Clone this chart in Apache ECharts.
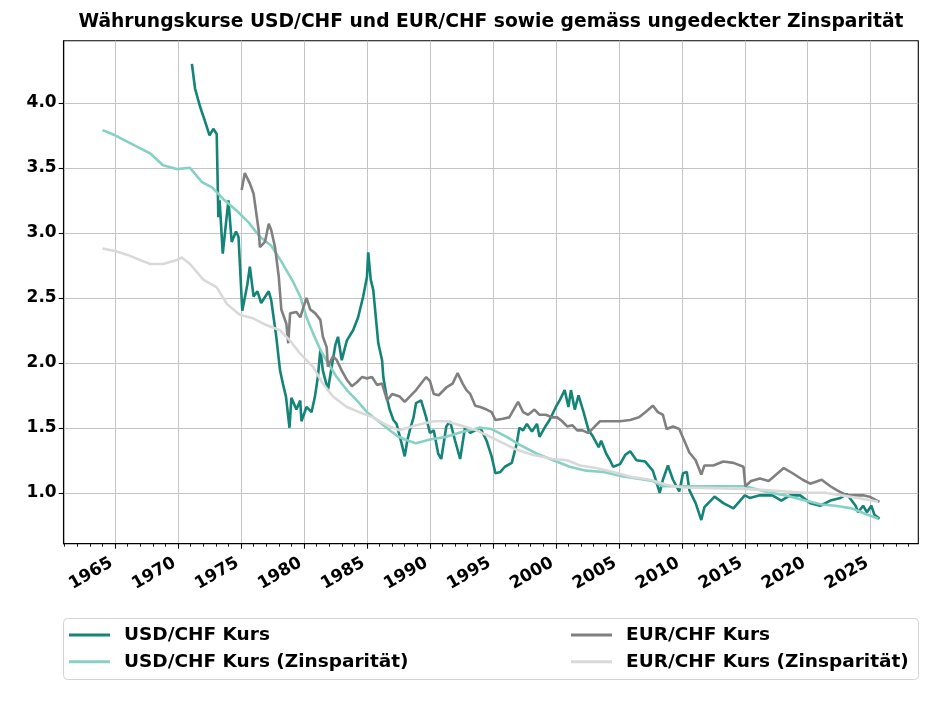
<!DOCTYPE html>
<html>
<head>
<meta charset="utf-8">
<script src="https://cdn.jsdelivr.net/npm/echarts@6/dist/echarts.min.js"></script>
<style>
  html, body { margin: 0; padding: 0; background: #fff; }
  #chart { width: 935px; height: 701px; }
</style>
</head>
<body>
<div id="chart"></div>
<script>
// ---- Data ----
const titleText = 'Währungskurse USD/CHF und EUR/CHF sowie gemäss ungedeckter Zinsparität';
const seriesNames = ['USD/CHF Kurs', 'USD/CHF Kurs (Zinsparität)', 'EUR/CHF Kurs', 'EUR/CHF Kurs (Zinsparität)'];
const xTickYears = [1965, 1970, 1975, 1980, 1985, 1990, 1995, 2000, 2005, 2010, 2015, 2020, 2025];
const yTickValues = [1.0, 1.5, 2.0, 2.5, 3.0, 3.5, 4.0];

const usdYears = [1971.1,1971.35,1971.75,1972.1,1972.5,1972.8,1973.07,1973.2,1973.3,1973.55,1974.0,1974.26,1974.6,1974.8,1975.1,1975.5,1975.7,1976.0,1976.3,1976.6,1977.2,1977.4,1977.8,1978.1,1978.37,1978.57,1978.85,1979.0,1979.4,1979.7,1979.8,1980.2,1980.6,1980.87,1981.1,1981.3,1981.5,1981.9,1982.2,1982.5,1982.7,1983.0,1983.4,1983.9,1984.3,1984.7,1985.0,1985.1,1985.3,1985.5,1985.9,1986.2,1986.3,1986.56,1986.8,1987.1,1987.35,1987.75,1988.0,1988.2,1988.4,1988.7,1988.9,1989.3,1989.7,1990.0,1990.3,1990.66,1990.9,1991.3,1991.6,1992.0,1992.4,1992.8,1993.2,1993.6,1994.0,1994.5,1994.9,1995.2,1995.6,1995.95,1996.5,1996.9,1997.1,1997.4,1997.7,1998.1,1998.5,1998.7,1999.1,1999.5,2000.0,2000.3,2000.7,2001.0,2001.2,2001.5,2001.8,2002.2,2002.6,2002.96,2003.4,2003.6,2004.0,2004.3,2004.55,2005.1,2005.5,2005.9,2006.4,2007.1,2007.7,2008.25,2008.5,2008.9,2009.3,2009.8,2010.1,2010.4,2010.6,2011.1,2011.55,2011.8,2012.6,2013.3,2014.1,2015.0,2015.4,2016.2,2017.2,2017.9,2018.6,2019.4,2020.2,2021.0,2021.8,2022.6,2023.1,2023.8,2024.0,2024.4,2024.7,2025.05,2025.3,2025.7];
const usdKurs = [4.30,4.11,3.97,3.87,3.75,3.80,3.76,3.12,3.25,2.84,3.25,2.93,3.01,2.97,2.40,2.60,2.74,2.51,2.55,2.46,2.55,2.48,2.20,1.94,1.82,1.74,1.50,1.73,1.64,1.71,1.55,1.66,1.62,1.74,1.89,2.10,1.94,1.79,1.97,2.14,2.20,2.02,2.17,2.25,2.35,2.51,2.66,2.85,2.64,2.56,2.15,2.02,1.89,1.74,1.64,1.56,1.53,1.38,1.28,1.40,1.48,1.58,1.69,1.71,1.58,1.46,1.48,1.30,1.26,1.51,1.55,1.40,1.26,1.51,1.46,1.48,1.50,1.40,1.28,1.15,1.16,1.20,1.23,1.38,1.50,1.48,1.53,1.47,1.53,1.43,1.50,1.56,1.66,1.71,1.79,1.66,1.79,1.64,1.75,1.62,1.48,1.43,1.35,1.40,1.30,1.25,1.20,1.22,1.29,1.32,1.25,1.24,1.17,1.00,1.10,1.21,1.10,1.01,1.15,1.16,1.02,0.92,0.79,0.89,0.97,0.92,0.88,0.98,0.96,0.98,0.98,0.94,0.98,0.98,0.92,0.90,0.94,0.96,0.99,0.90,0.85,0.90,0.85,0.90,0.83,0.80];

const usdParYears = [1964.0,1965.0,1966.0,1967.0,1967.8,1968.8,1969.9,1970.95,1971.9,1972.7,1973.7,1974.66,1975.6,1976.5,1977.4,1978.2,1979.15,1979.7,1980.2,1980.7,1981.3,1981.9,1982.6,1983.4,1984.2,1985.0,1985.8,1986.56,1987.35,1988.0,1988.9,1990.0,1991.3,1992.6,1994.0,1994.9,1996.1,1997.1,1998.5,1999.8,2001.1,2002.4,2003.8,2005.1,2006.4,2007.7,2008.5,2010.1,2013.5,2015.05,2016.6,2018.2,2019.8,2021.1,2022.2,2023.5,2024.5,2025.6];
const usdPar = [3.79,3.75,3.70,3.65,3.61,3.52,3.49,3.50,3.39,3.35,3.25,3.17,3.08,2.97,2.90,2.78,2.62,2.51,2.35,2.23,2.10,2.00,1.89,1.79,1.71,1.62,1.56,1.50,1.44,1.41,1.38,1.41,1.43,1.47,1.50,1.49,1.43,1.37,1.30,1.25,1.20,1.17,1.16,1.13,1.11,1.09,1.05,1.05,1.05,1.05,1.01,0.98,0.94,0.91,0.90,0.88,0.84,0.80];

const eurYears = [1975.05,1975.3,1975.7,1976.0,1976.4,1976.5,1976.9,1977.2,1977.4,1977.7,1978.0,1978.2,1978.6,1978.75,1978.9,1979.4,1979.7,1980.2,1980.5,1980.9,1981.3,1981.5,1981.8,1981.9,1982.3,1982.6,1983.0,1983.4,1983.8,1984.2,1984.6,1985.0,1985.4,1985.8,1986.2,1986.6,1987.0,1987.6,1988.0,1988.4,1988.9,1989.3,1989.7,1990.0,1990.3,1990.7,1991.3,1991.8,1992.2,1992.6,1992.9,1993.2,1993.6,1994.0,1994.5,1994.9,1995.2,1995.8,1996.3,1997.0,1997.4,1997.8,1998.3,1998.7,1999.2,1999.7,2000.1,2000.5,2000.9,2001.3,2001.7,2002.1,2002.6,2003.1,2003.5,2004.0,2005.1,2005.9,2006.6,2007.1,2007.7,2008.1,2008.5,2008.8,2009.3,2009.8,2010.2,2010.6,2011.1,2011.55,2011.8,2012.5,2013.3,2014.1,2014.9,2015.05,2015.5,2016.2,2016.9,2017.5,2018.1,2018.8,2019.6,2020.2,2021.1,2021.8,2022.3,2023.1,2023.9,2024.4,2024.9,2025.7];
const eurKurs = [3.33,3.46,3.38,3.30,3.02,2.89,2.93,3.07,3.02,2.89,2.66,2.41,2.30,2.15,2.38,2.39,2.35,2.50,2.41,2.38,2.33,2.20,2.12,1.97,2.05,2.02,1.94,1.87,1.82,1.85,1.89,1.88,1.89,1.83,1.84,1.71,1.76,1.74,1.70,1.74,1.79,1.84,1.89,1.86,1.76,1.75,1.81,1.84,1.92,1.84,1.79,1.76,1.67,1.66,1.64,1.62,1.56,1.57,1.58,1.70,1.62,1.60,1.64,1.60,1.60,1.58,1.58,1.55,1.51,1.52,1.48,1.48,1.46,1.51,1.55,1.55,1.55,1.56,1.58,1.62,1.67,1.62,1.60,1.49,1.51,1.49,1.40,1.31,1.25,1.14,1.21,1.21,1.24,1.23,1.20,1.05,1.09,1.11,1.09,1.14,1.19,1.15,1.10,1.07,1.10,1.05,1.02,0.98,0.98,0.98,0.97,0.93];

const eurParYears = [1964.0,1965.0,1966.0,1967.0,1967.8,1968.8,1969.9,1970.3,1970.95,1972.0,1973.07,1973.9,1974.9,1976.0,1977.0,1978.1,1978.9,1979.7,1980.7,1981.5,1982.3,1983.4,1984.4,1985.5,1986.56,1987.6,1988.9,1990.3,1991.3,1992.4,1993.7,1995.0,1996.9,1998.2,1999.8,2000.9,2001.9,2003.2,2004.55,2006.1,2007.5,2008.8,2010.1,2014.9,2016.6,2018.2,2019.8,2021.4,2022.7,2024.0,2025.6];
const eurPar = [2.88,2.86,2.83,2.79,2.76,2.76,2.79,2.81,2.76,2.64,2.58,2.45,2.37,2.34,2.29,2.25,2.17,2.07,1.97,1.84,1.74,1.66,1.62,1.58,1.52,1.48,1.52,1.55,1.55,1.52,1.48,1.42,1.33,1.29,1.26,1.25,1.21,1.19,1.16,1.12,1.10,1.06,1.04,1.03,1.02,1.01,1.00,1.00,0.98,0.96,0.93];

const minorYears = [];
for (let y = 1961; y <= 2028; y++) minorYears.push(y);

function pairs(xs, ys) { return xs.map((x, i) => [x, ys[i]]); }

const colors = ['#138477', '#86d1c4', '#808080', '#d9d9d9'];
const FONT = '"DejaVu Sans", sans-serif';

const chart = echarts.init(document.getElementById('chart'), null, { renderer: 'canvas' });

const X_MIN = 1960.92, X_MAX = 2028.78, Y_MIN = 0.608, Y_MAX = 4.478;

const legendText = { color: '#000', fontSize: 18.5, fontWeight: 'bold', fontFamily: FONT, lineHeight: 20, padding: [0, 0, 0, 9] };

const option = {
  animation: false,
  backgroundColor: '#ffffff',
  grid: { left: 63.7, right: 16.7, top: 40.7, bottom: 157.3, show: true, borderColor: '#000', borderWidth: 1.1, backgroundColor: 'transparent' },
  xAxis: [
    {
      type: 'value', min: X_MIN, max: X_MAX, position: 'bottom',
      axisLine: { show: true, onZero: false, lineStyle: { color: '#000', width: 1.1 } },
      axisTick: { show: true, length: 5, customValues: xTickYears, lineStyle: { color: '#000', width: 1.1 } },
      axisLabel: { customValues: xTickYears, rotate: 30, margin: 16, padding: [0, 4, 0, 0], color: '#000', fontSize: 17, fontWeight: 'bold', fontFamily: FONT, formatter: v => String(Math.round(v)) },
      splitLine: { show: true, lineStyle: { color: '#c4c4c4', width: 1 } }
    },
    {
      type: 'value', min: X_MIN, max: X_MAX, position: 'bottom', gridIndex: 0,
      axisLine: { show: false },
      axisTick: { show: true, length: 3, customValues: minorYears, lineStyle: { color: '#000', width: 0.9 } },
      axisLabel: { show: false },
      splitLine: { show: false }
    }
  ],
  yAxis: {
    type: 'value', min: Y_MIN, max: Y_MAX,
    axisLine: { show: true, onZero: false, lineStyle: { color: '#000', width: 1.1 } },
    axisTick: { show: true, length: 5, customValues: yTickValues, lineStyle: { color: '#000', width: 1.1 } },
    axisLabel: { customValues: yTickValues, margin: 7, color: '#000', fontSize: 17, fontWeight: 'bold', fontFamily: FONT, formatter: v => v.toFixed(1) },
    splitLine: { show: true, lineStyle: { color: '#c4c4c4', width: 1 } }
  },
  legend: [
    {
      data: [seriesNames[0], seriesNames[1]], orient: 'vertical', left: 69, top: 625, padding: 0,
      icon: 'rect', itemWidth: 41, itemHeight: 3, itemGap: 6.7,
      textStyle: legendText, selectedMode: false
    },
    {
      data: [seriesNames[2], seriesNames[3]], orient: 'vertical', left: 571, top: 625, padding: 0,
      icon: 'rect', itemWidth: 41, itemHeight: 3, itemGap: 6.7,
      textStyle: legendText, selectedMode: false
    }
  ],
  graphic: [
    { type: 'text', x: 491, y: 22, style: { text: titleText, x: 0, y: 0, align: 'center', verticalAlign: 'middle', fill: '#000', font: 'bold 18.7px "DejaVu Sans", sans-serif' }, z: 10 },
    { type: 'rect', shape: { x: 63.5, y: 618.5, width: 855, height: 61, r: 4 }, style: { fill: 'none', stroke: '#d4d4d4', lineWidth: 1 }, z: 0 }
  ],
  series: [
    { name: seriesNames[0], type: 'line', data: pairs(usdYears, usdKurs), showSymbol: false, color: colors[0], lineStyle: { width: 2.6, color: colors[0] }, z: 2 },
    { name: seriesNames[1], type: 'line', data: pairs(usdParYears, usdPar), showSymbol: false, color: colors[1], lineStyle: { width: 2.6, color: colors[1] }, z: 3 },
    { name: seriesNames[2], type: 'line', data: pairs(eurYears, eurKurs), showSymbol: false, color: colors[2], lineStyle: { width: 2.6, color: colors[2] }, z: 4 },
    { name: seriesNames[3], type: 'line', data: pairs(eurParYears, eurPar), showSymbol: false, color: colors[3], lineStyle: { width: 2.6, color: colors[3] }, z: 5 }
  ]
};
chart.setOption(option);
</script>
</body>
</html>
